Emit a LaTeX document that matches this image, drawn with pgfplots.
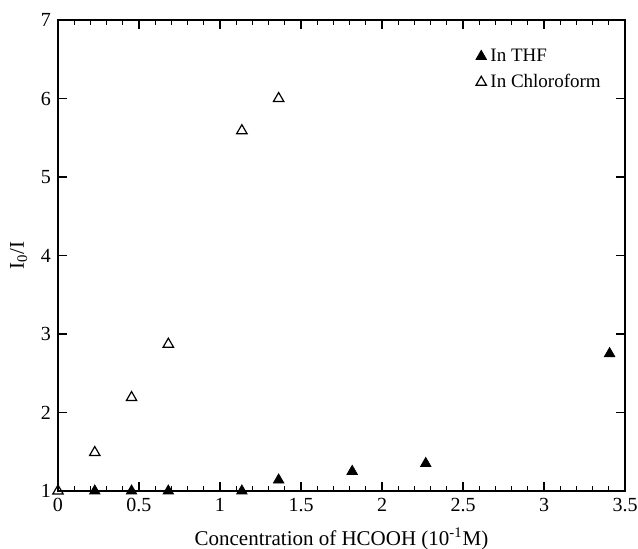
\documentclass[border=0pt]{standalone}
\usepackage{pgfplots}
\pgfplotsset{compat=1.18}
\usepackage{fontspec}
\setmainfont{Liberation Serif}
\begin{document}
\begin{tikzpicture}
\begin{axis}[
  name=ax,
  scale only axis,
  width=283.5pt, height=235.5pt,
  xmin=0, xmax=3.5, ymin=1, ymax=7,
  xtick={0,0.5,...,3.5},
  xticklabels={0,0.5,1,1.5,2,2.5,3,3.5},
  ytick={1,2,...,7},
  minor x tick num=4,
  tick align=inside,
  major tick length=4.5pt,
  minor tick length=2.5pt,
  tick style={black, line width=0.6pt},
  axis line style={line width=0.8pt},
  /pgf/number format/assume math mode=true,
  ticklabel style={font=\fontsize{10}{12}\selectfont},
  label style={font=\fontsize{10.5}{12}\selectfont},
  xlabel={Concentration of HCOOH (10\textsuperscript{-1}M)},
  ylabel={I\textsubscript{0}/I},
  xlabel style={yshift=-1pt},
  ylabel style={yshift=0pt},
  clip=false,
  legend style={draw=none, fill=none, at={(0.726,0.957)}, anchor=north west,
    font=\fontsize{9.5}{13.5}\selectfont, row sep=1pt},
  legend cell align=left,
  legend image code/.code={\draw[#1] plot coordinates {(0.12cm,0cm)};},
]
\addplot[only marks, mark=triangle*, mark size=3pt, black, mark options={fill=black}]
  coordinates {(0.227,1.0) (0.454,1.0) (0.681,1.0) (1.135,1.0) (1.362,1.14) (1.816,1.25) (2.27,1.35) (3.405,2.75)};
\addlegendentry{In THF}
\addplot[only marks, mark=triangle, mark size=3pt, black, mark options={line width=0.6pt}]
  coordinates {(0,1.0) (0.227,1.49) (0.454,2.19) (0.681,2.87) (1.135,5.59) (1.362,6.0)};
\addlegendentry{In Chloroform}
\end{axis}
\pgfresetboundingbox
\path (ax.south west) ++(-29pt,-29pt) coordinate (bl);
\path (ax.north east) ++(6.5pt,10pt) coordinate (tr);
\path[use as bounding box] (bl) rectangle (tr);
\end{tikzpicture}
\end{document}
